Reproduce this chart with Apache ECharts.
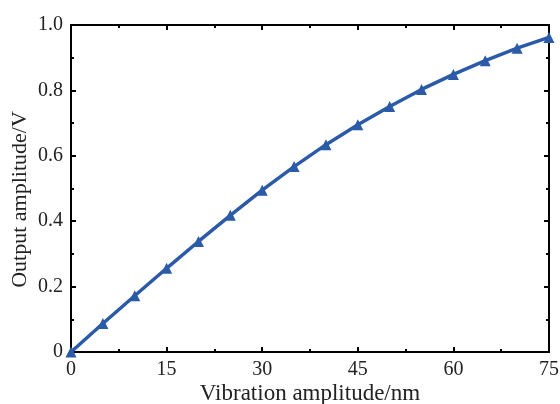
<!DOCTYPE html>
<html><head><meta charset="utf-8">
<script src="https://cdn.jsdelivr.net/npm/echarts@6/dist/echarts.min.js"></script>
<style>html,body{margin:0;padding:0;background:#fff}#c{width:560px;height:404px}</style>
</head><body><div id="c"></div>
<script>
const xValues = [0,5,10,15,20,25,30,35,40,45,50,55,60,65,70,75];
const yValues = [0,0.087,0.172,0.256,0.338,0.418,0.495,0.567,0.634,0.695,0.751,0.803,0.849,0.891,0.929,0.962];
const xTitle = 'Vibration amplitude/nm';
const yTitle = 'Output amplitude/V';

const font = 'Liberation Serif, Times New Roman, serif';
const lineColor = '#2a5aa8';
const axisCommon = {
  axisLine: {show: true, onZero: false, lineStyle: {color: '#000', width: 2}},
  axisTick: {show: true, inside: true, length: 5, lineStyle: {color: '#000', width: 2}},
  minorTick: {show: true, splitNumber: 2, length: 3, lineStyle: {color: '#000', width: 2}},
  splitLine: {show: false}
};
const chart = echarts.init(document.getElementById('c'), null, {renderer: 'canvas'});
chart.setOption({
  animation: false,
  grid: {left: 71, right: 11, top: 25, bottom: 52, containLabel: false, outerBoundsMode: 'none'},
  xAxis: [
    Object.assign({type: 'value', min: 0, max: 75, interval: 15, position: 'bottom',
      name: xTitle, nameLocation: 'middle', nameGap: 30, nameMoveOverlap: false,
      nameTextStyle: {fontFamily: font, fontSize: 23, color: '#222'},
      axisLabel: {fontFamily: font, fontSize: 20, color: '#222', margin: 8,
        formatter: v => String(v)}}, axisCommon),
    Object.assign({type: 'value', min: 0, max: 75, interval: 15, position: 'top',
      axisLabel: {show: false}}, axisCommon)
  ],
  yAxis: [
    Object.assign({type: 'value', min: 0, max: 1, interval: 0.2, position: 'left',
      name: yTitle, nameLocation: 'middle', nameGap: 40, nameMoveOverlap: false,
      nameTextStyle: {fontFamily: font, fontSize: 22, color: '#222', padding: [0, 22, 0, 0]},
      axisLabel: {fontFamily: font, fontSize: 20, color: '#222', margin: 8,
        formatter: v => v === 0 ? '0' : v.toFixed(1)}}, axisCommon),
    Object.assign({type: 'value', min: 0, max: 1, interval: 0.2, position: 'right',
      axisLabel: {show: false}}, axisCommon)
  ],
  series: [{
    type: 'line',
    data: xValues.map((x, i) => [x, yValues[i]]),
    smooth: false,
    symbol: 'triangle', symbolSize: 11,
    showAllSymbol: true,
    lineStyle: {color: lineColor, width: 3.5},
    itemStyle: {color: lineColor},
    clip: false
  }]
});
</script></body></html>
